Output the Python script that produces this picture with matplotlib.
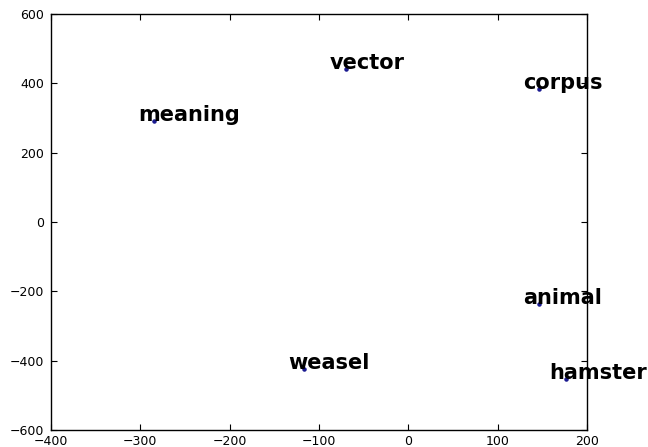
import matplotlib

matplotlib.use("Agg")
import matplotlib.pyplot as plt

# 2-D projection of word vectors
words = ["meaning", "vector", "corpus", "animal", "weasel", "hamster"]
xs = [-285, -70, 146, 146, -117, 176]
ys = [292, 441, 383, -236, -424, -452]

x_ticks = [-400, -300, -200, -100, 0, 100, 200]
y_ticks = [-600, -400, -200, 0, 200, 400, 600]

fig = plt.figure(figsize=(6.48, 4.47), dpi=100)
ax = fig.add_axes([51 / 648, 17 / 447, 536 / 648, 416 / 447])

ax.scatter(xs, ys, s=5, color="#1a1a90", zorder=2)
for word, x, y in zip(words, xs, ys):
    ax.annotate(
        word,
        xy=(x, y),
        xytext=(-11.5, 0),
        textcoords="offset points",
        ha="left",
        va="baseline",
        fontsize=15,
        fontweight="bold",
        color="black",
        zorder=4,
        annotation_clip=False,
    )

ax.set_xlim(-400, 200)
ax.set_ylim(-600, 600)
ax.set_xticks(x_ticks)
ax.set_yticks(y_ticks)
ax.tick_params(direction="in", top=True, right=True, length=4, labelsize=9)
ax.tick_params(axis="x", pad=3.5)
ax.tick_params(axis="y", pad=5)
for spine in ax.spines.values():
    spine.set_linewidth(1.0)

fig.savefig("out.png", dpi=100)
